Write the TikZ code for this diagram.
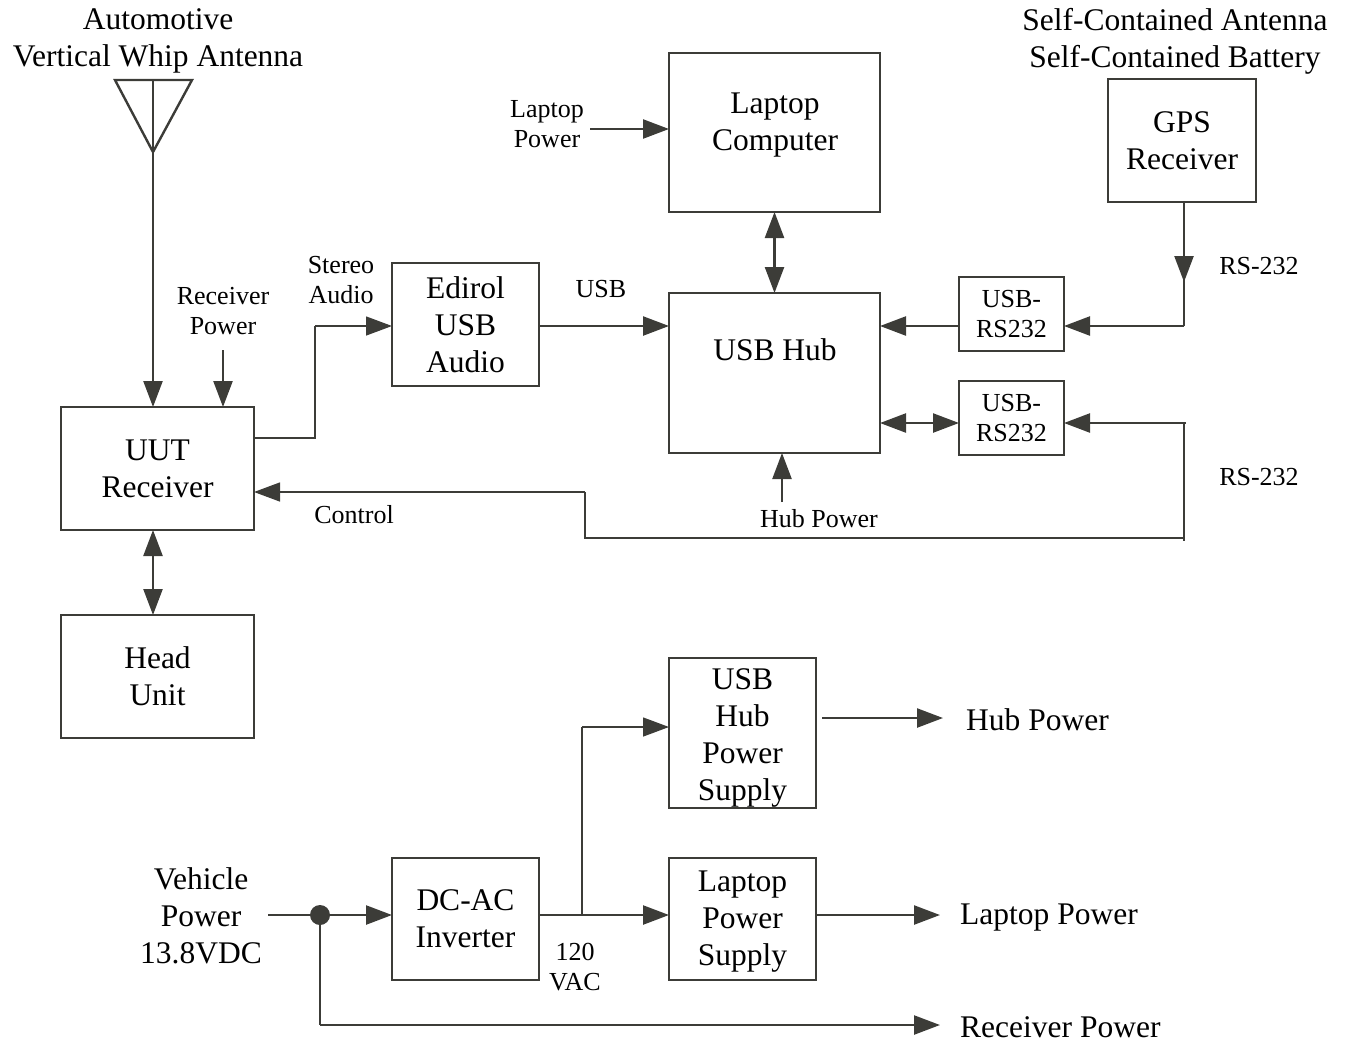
\documentclass[tikz,border=0pt]{standalone}
\usepackage{fontspec}
\setmainfont{Liberation Serif}
\usetikzlibrary{arrows.meta,calc}
\definecolor{lc}{RGB}{60,60,56}
\tikzset{
  box/.style={draw=lc, line width=2.6pt, inner sep=0pt, outer sep=0pt, align=center, font=\bigf},
  txt/.style={align=center, inner sep=0pt, font=\bigf},
  stxt/.style={align=center, inner sep=0pt, font=\smallf},
  conn/.style={draw=lc, line width=2.4pt, -{Triangle[length=26pt,width=19pt]}},
  dconn/.style={draw=lc, line width=2.4pt, {Triangle[length=26pt,width=19pt]}-{Triangle[length=26pt,width=19pt]}},
  thinc/.style={draw=lc, line width=1.4pt},
  thinarr/.style={draw=lc, line width=1.4pt, -{Triangle[length=26pt,width=19pt]}},
}
\newcommand{\bigf}{\fontsize{31.5}{37}\selectfont}
\newcommand{\smallf}{\fontsize{26}{30}\selectfont}
\begin{document}
\begin{tikzpicture}[x=1pt,y=-1pt]
\useasboundingbox (0,0) rectangle (1348,1042);
% boxes
\node[box, minimum width=193pt, minimum height=123pt] (uut) at (157.5,468.5) {UUT\\Receiver};
\node[box, minimum width=193pt, minimum height=123pt] (head) at (157.5,676.5) {Head\\Unit};
\node[box, minimum width=147pt, minimum height=123pt] (edirol) at (465.5,324.5) {Edirol\\USB\\Audio};
\node[box, minimum width=211pt, minimum height=160pt] (hub) at (774.5,373) {};
\node[txt] at (775,350) {USB Hub};
\node[box, minimum width=211pt, minimum height=159pt] (lap) at (774.5,132.5) {};
\node[txt] at (775,125) {Laptop\\Computer};
\node[box, minimum width=148pt, minimum height=123pt] (gps) at (1182,140.5) {GPS\\Receiver};
\node[box, minimum width=105pt, minimum height=74pt, font=\smallf] (rsa) at (1011.5,314) {USB-\\RS232};
\node[box, minimum width=105pt, minimum height=74pt, font=\smallf] (rsb) at (1011.5,418) {USB-\\RS232};
\node[box, minimum width=147pt, minimum height=150pt] (hps) at (742.5,733) {};
\node[txt] at (742.5,738) {USB\\Hub\\Power\\Supply};
\node[box, minimum width=147pt, minimum height=122pt] (lps) at (742.5,919) {};
\node[txt] at (742.5,922) {Laptop\\Power\\Supply};
\node[box, minimum width=147pt, minimum height=122pt] (inv) at (465.5,919) {DC-AC\\Inverter};

% text labels
\node[txt] (antl) at (158,41) {Automotive\\Vertical Whip Antenna};
\node[txt] (gpsl) at (1175,41) {Self-Contained Antenna\\Self-Contained Battery};
\node[stxt] (lpl) at (547,124) {Laptop\\Power};
\node[stxt] (rpl) at (223,311) {Receiver\\Power};
\node[stxt] (sal) at (341,280) {Stereo\\Audio};
\node[stxt] (usbl) at (601,289) {USB};
\node[stxt] (rs1l) at (1259,266) {RS-232};
\node[stxt] (rs2l) at (1259,477) {RS-232};
\node[stxt] (ctl) at (354,515) {Control};
\node[stxt] (hpl) at (819,519) {Hub Power};
\node[txt] (vpl) at (201,916) {Vehicle\\Power\\13.8VDC};
\node[stxt] (vacl) at (575,967) {120\\VAC};
\node[txt, anchor=west] (hpo) at (966,720) {Hub Power};
\node[txt, anchor=west] (lpo) at (960,918) {Laptop Power};
\node[txt, anchor=west] (rpo) at (960,1027) {Receiver Power};

% antenna
\draw[draw=lc, line width=2.4pt, line join=miter] (115,80) -- (192,80) -- (153,152) -- cycle;
\coordinate (anttop) at (153,80);
\draw[conn] (anttop) -- (uut.north -| anttop);

% coordinates
\coordinate (rpin) at (223,350);
\coordinate (lpin) at (590,129);
\coordinate (hpin) at (782,502);
\coordinate (sa1) at (315,438);
\coordinate (sa2) at (315,326);
\coordinate (gpsc) at (1184,326);
\coordinate (gpsm) at (1184,282);
\coordinate (rsc) at (1186,423);
\coordinate (c1) at (1184,541);
\coordinate (c2) at (1184,538);
\coordinate (c3) at (585,538);
\coordinate (c4) at (585,492);
\coordinate (vin) at (268,915);
\coordinate (dot) at (320,915);
\coordinate (rpe) at (940,1025);
\coordinate (br) at (582,915);
\coordinate (br2) at (582,727);
\coordinate (hpe) at (943,718);
\coordinate (lpe) at (940,915);
\coordinate (hu) at (153,0);

% connectors
\draw[conn] (rpin) -- (rpin |- uut.north);
\draw[dconn] (uut.south -| hu) -- (head.north -| hu);
\draw[thinc] (uut.east |- sa1) -- (sa1) -- (sa2);
\draw[thinarr] (sa2) -- (edirol.west |- sa2);
\draw[conn] (edirol.east |- sa2) -- (hub.west |- sa2);
\draw[conn] (lpin) -- (lap.west |- lpin);
\draw[dconn] (lap.south) -- (hub.north);
\draw[conn] (hpin) -- (hpin |- hub.south);
% GPS
\draw[draw=lc, line width=2.4pt] (gps.south -| gpsc) -- (gpsc);
\draw[conn] (gps.south -| gpsc) -- (gpsm);
\draw[conn] (gpsc) -- (rsa.east |- gpsc);
\draw[conn] (rsa.west |- gpsc) -- (hub.east |- gpsc);
% second RS232
\draw[dconn] (hub.east |- rsc) -- (rsb.west |- rsc);
\draw[conn] (rsc) -- (rsb.east |- rsc);
\draw[thinc] (1184,423) -- (c1);
\draw[thinc] (c2) -- (c3) -- (c4);
\draw[thinarr] (c4) -- (uut.east |- c4);
% power
\draw[draw=lc, line width=2.4pt] (vin) -- (dot);
\fill[lc] (dot) circle (10pt);
\draw[conn] (dot) -- (inv.west |- dot);
\draw[draw=lc, line width=2.4pt] (dot) -- (dot |- rpe);
\draw[conn] (dot |- rpe) -- (rpe);
\draw[conn] (inv.east |- br) -- (lps.west |- br);
\draw[thinc] (br) -- (br2);
\draw[thinarr] (br2) -- (hps.west |- br2);
\draw[conn] (822,718) -- (hpe);
\draw[conn] (lps.east |- lpe) -- (lpe);
\end{tikzpicture}
\end{document}
